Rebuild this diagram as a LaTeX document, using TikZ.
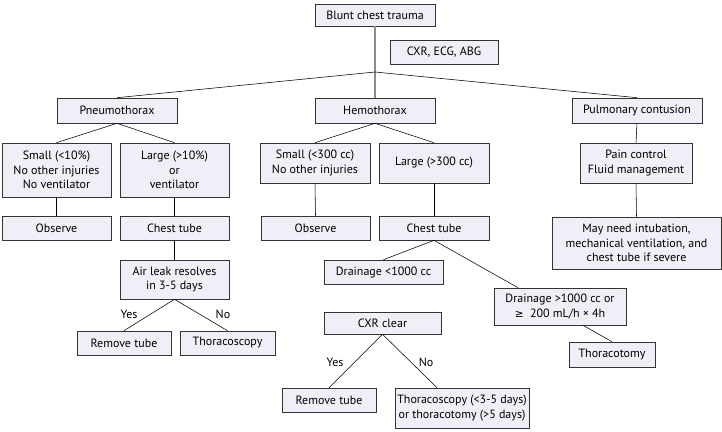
\documentclass[tikz,border=0pt]{standalone}
\usepackage{fontspec}
\setmainfont{PT Sans}
\newfontfamily\symfont{DejaVu Sans}
\usetikzlibrary{shadows}
\definecolor{boxfill}{HTML}{EFEFF7}
\definecolor{boxdraw}{HTML}{333333}
\tikzset{
  fbox/.style={draw=boxdraw, line width=0.6pt, fill=boxfill, inner sep=0pt, align=center,
    font=\fontsize{12}{14.7}\selectfont,
    drop shadow={shadow xshift=1.3pt, shadow yshift=-1.3pt, fill=black!45, opacity=1}},
  conn/.style={draw=black, line width=0.55pt},
  trunk/.style={draw=black!45, line width=1.1pt},
  lbl/.style={inner sep=0pt, font=\fontsize{12}{14}\selectfont}
}
\begin{document}
\begin{tikzpicture}[x=1pt,y=-1pt]
\useasboundingbox (0,0) rectangle (722,431);
% boxes
\node[fbox, minimum width=120pt, minimum height=22pt] (bct) at (375,15) {Blunt chest trauma};
\node[fbox, minimum width=108pt, minimum height=24pt] (cxr) at (444,52) {CXR, ECG, ABG};
\node[fbox, minimum width=120pt, minimum height=25pt] (pneumo) at (117,110.5) {Pneumothorax};
\node[fbox, minimum width=120pt, minimum height=25pt] (hemo) at (375,110.5) {Hemothorax};
\node[fbox, minimum width=130pt, minimum height=25pt] (pulm) at (637,110.5) {Pulmonary contusion};
\node[fbox, minimum width=109pt, minimum height=54pt] (small10) at (56.5,170) {Small (<10\%)\\No other injuries\\No ventilator};
\node[fbox, minimum width=109pt, minimum height=54pt] (large10) at (174.5,170) {Large (>10\%)\\or\\ventilator};
\node[fbox, minimum width=110pt, minimum height=40pt] (small300) at (315,163) {Small (<300 cc)\\No other injuries};
\node[fbox, minimum width=110pt, minimum height=40pt] (large300) at (434,163) {Large (>300 cc)};
\node[fbox, minimum width=112pt, minimum height=40pt] (pain) at (636,163) {Pain control\\Fluid management};
\node[fbox, minimum width=109pt, minimum height=24pt] (obs1) at (56.5,228) {Observe};
\node[fbox, minimum width=109pt, minimum height=24pt] (ct1) at (174.5,228) {Chest tube};
\node[fbox, minimum width=109pt, minimum height=24pt] (obs2) at (315.5,228) {Observe};
\node[fbox, minimum width=110pt, minimum height=24pt] (ct2) at (434,228) {Chest tube};
\node[fbox, minimum width=169pt, minimum height=52pt] (may) at (636.5,243) {May need intubation,\\mechanical ventilation, and\\chest tube if severe};
\node[fbox, minimum width=109pt, minimum height=39pt] (air) at (174.5,279.5) {Air leak resolves\\in 3-5 days};
\node[fbox, minimum width=94pt, minimum height=24pt] (rt1) at (124,343) {Remove tube};
\node[fbox, minimum width=95pt, minimum height=24pt] (thsc) at (227.5,343) {Thoracoscopy};
\node[fbox, minimum width=119pt, minimum height=24pt] (d1000) at (383.5,272) {Drainage <1000 cc};
\node[fbox, minimum width=132pt, minimum height=37pt] (d1000b) at (560,306.5) {Drainage >1000 cc or\\{\symfont\fontsize{10.5}{12}\selectfont ≥}\ \ 200 mL/h × 4h};
\node[fbox, minimum width=86pt, minimum height=25pt] (thtomy) at (612,354.5) {Thoracotomy};
\node[fbox, minimum width=117pt, minimum height=22pt] (cxrc) at (382.5,323) {CXR clear};
\node[fbox, minimum width=94pt, minimum height=24pt] (rt2) at (329,400) {Remove tube};
\node[fbox, minimum width=134pt, minimum height=40pt] (thsc2) at (462,408) {Thoracoscopy (<3-5 days)\\or thoracotomy (>5 days)};
% connectors
\coordinate (j) at (375,72);
\draw[trunk] (bct.south) -- (hemo.north);
\draw[conn] (j) -- (pneumo.north);
\draw[conn] (j) -- (pulm.north);
\draw[conn] (pneumo.south) -- (small10.north);
\draw[conn] (pneumo.south) -- (large10.north);
\draw[conn] (hemo.south) -- (small300.north);
\draw[conn] (hemo.south) -- (large300.north);
\draw[conn] (pulm.south) -- (pain.north);
\draw[conn] (small10.south) -- (obs1.north);
\draw[conn] (large10.south) -- (ct1.north);
\draw[conn] (small300.south) -- (obs2.north);
\draw[conn] (large300.south) -- (ct2.north);
\draw[conn] (pain.south) -- (may.north);
\draw[conn] (ct1.south) -- (air.north);
\draw[conn] (air.south) -- (rt1.north);
\draw[conn] (air.south) -- (thsc.north);
\draw[conn] (ct2.south) -- (d1000.north);
\draw[conn] (ct2.south) -- ([xshift=-42pt]d1000b.north);
\draw[conn] ([xshift=23pt]d1000b.south) -- (thtomy.north);
\draw[conn] (cxrc.south) -- (rt2.north);
\draw[conn] (cxrc.south) -- ([xshift=-25pt]thsc2.north);
% labels
\node[lbl] (yes1) at (129,314) {Yes};
\node[lbl] (no1) at (223,314) {No};
\node[lbl] (yes2) at (335,362) {Yes};
\node[lbl] (no2) at (426,362) {No};
\end{tikzpicture}
\end{document}
